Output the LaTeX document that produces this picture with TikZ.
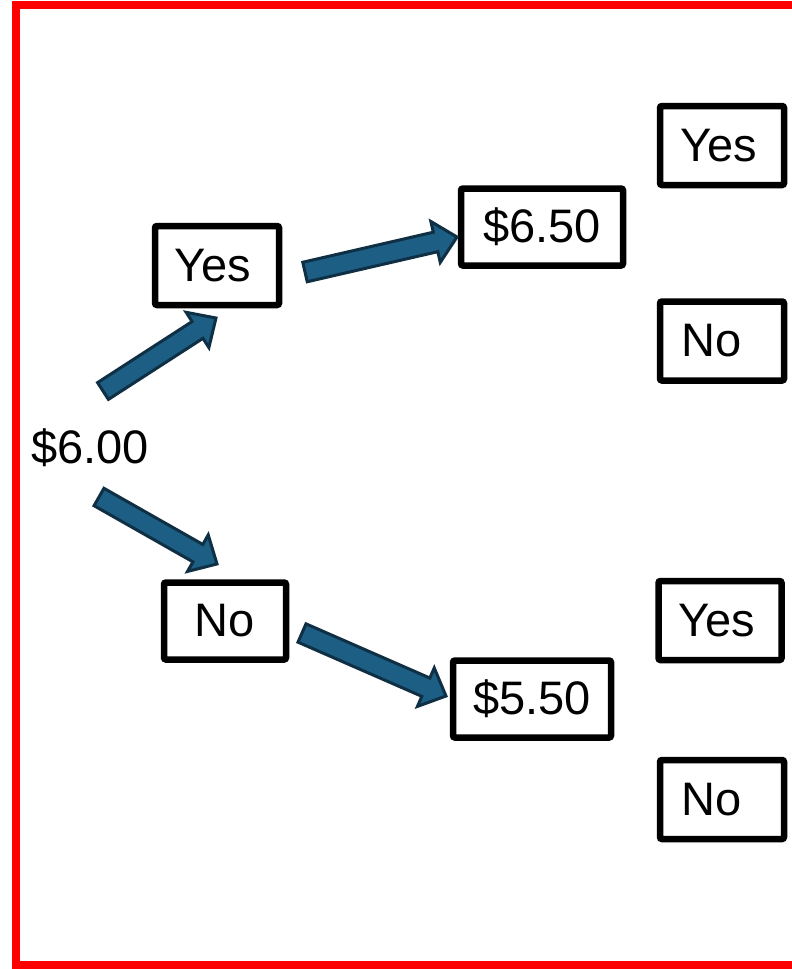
\documentclass[tikz,border=0pt]{standalone}
\usepackage{fontspec}
\setmainfont{Liberation Sans}
\usetikzlibrary{calc}
\definecolor{arrfill}{HTML}{1D5E84}
\definecolor{arrline}{HTML}{0E2F44}
\tikzset{
  box/.style={draw=black, line width=6.5pt, rounded corners=2pt, fill=white,
    inner sep=0pt, minimum width=124pt, minimum height=79pt,
    font=\fontsize{47}{56}\selectfont},
  plain/.style={inner sep=0pt, font=\fontsize{47}{56}\selectfont},
  blockarrow/.style={fill=arrfill, draw=arrline, line width=3pt, line join=miter}
}
\newcommand\blockarr[2]{%
  \draw[blockarrow] let \p1=($(#2)-(#1)$), \n1={atan2(\y1,\x1)}, \n2={veclen(\x1,\y1)} in
    [shift={(#1)}, rotate=\n1]
    (0,-10) -- ({\n2-22},-10) -- ({\n2-22},-21) -- ({\n2},0) -- ({\n2-22},21)
    -- ({\n2-22},10) -- (0,10) -- cycle;}
\begin{document}
\begin{tikzpicture}[x=1pt,y=-1pt]
\useasboundingbox (0,0) rectangle (792,969);
\clip (0,0) rectangle (792,969);
\fill[white] (0,0) rectangle (792,969);
\draw[red, line width=8pt] (16,5) rectangle (820,965);

\node[plain] (root) at (90,448) {\$6.00};
\node[box] (yes1) at (217,265.5) {Yes\hspace*{8pt}};
\node[box, minimum width=122pt, minimum height=77pt] (no1) at (225,621) {No};
\node[box, minimum width=162pt, minimum height=77pt] (up) at (542,227) {\$6.50};
\node[box, minimum width=158pt, minimum height=77pt] (down) at (532,699) {\$5.50};
\node[box] (yes2) at (722,145.5) {Yes\hspace*{6pt}};
\node[box] (no2) at (722,341) {No\hspace*{20pt}};
\node[box, minimum width=123pt] (yes3) at (720,620.5) {Yes\hspace*{6pt}};
\node[box] (no3) at (722,799.5) {No\hspace*{20pt}};

\coordinate (t1) at (103,391); \coordinate (h1) at (216,318);
\coordinate (t2) at (305,272); \coordinate (h2) at (457,237);
\coordinate (t3) at (99,497);  \coordinate (h3) at (217,564);
\coordinate (t4) at (302,633); \coordinate (h4) at (446,696);
\blockarr{t1}{h1}
\blockarr{t2}{h2}
\blockarr{t3}{h3}
\blockarr{t4}{h4}
\end{tikzpicture}
\end{document}
